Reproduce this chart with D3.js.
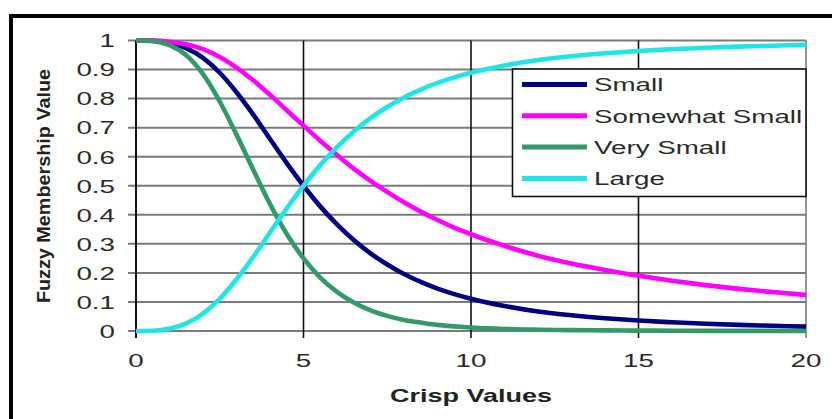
<!DOCTYPE html>
<html>
<head>
<meta charset="utf-8">
<script src="https://cdn.jsdelivr.net/npm/d3@7"></script>
<style>
  html, body { margin: 0; padding: 0; background: #fff; }
  svg { display: block; }
  text { font-family: "Liberation Sans", Arial, sans-serif; }
</style>
</head>
<body>
<svg id="chart" width="832" height="419"></svg>
<script>
// ---- data ----
const crispValues = [0,0.5,1,1.5,2,2.5,3,3.5,4,4.5,5,5.5,6,6.5,7,7.5,8,8.5,9,9.5,10,11,12,13,14,15,16,17,18,19,20];
const small =          [1.00,0.999,0.992,0.974,0.94,0.889,0.822,0.745,0.661,0.578,0.50,0.429,0.367,0.313,0.267,0.229,0.196,0.169,0.146,0.127,0.111,0.086,0.067,0.054,0.044,0.036,0.030,0.025,0.021,0.018,0.015];
const somewhatSmall =  [1.00,1.00,0.996,0.987,0.97,0.943,0.907,0.863,0.813,0.76,0.707,0.655,0.606,0.559,0.517,0.479,0.443,0.411,0.382,0.356,0.333,0.293,0.259,0.232,0.21,0.19,0.173,0.158,0.145,0.134,0.124];
const verySmall =      [1.00,0.998,0.984,0.949,0.884,0.79,0.676,0.555,0.437,0.334,0.25,0.184,0.135,0.098,0.071,0.052,0.038,0.029,0.021,0.016,0.012,0.007,0.0045,0.003,0.002,0.0013,0.001,0.0006,0.0004,0.0003,0.0002];
const large =          [0.00,0.001,0.008,0.026,0.06,0.111,0.178,0.255,0.339,0.422,0.50,0.571,0.633,0.687,0.733,0.771,0.804,0.831,0.854,0.873,0.889,0.914,0.933,0.946,0.956,0.964,0.97,0.975,0.979,0.982,0.985];
const seriesNames = ["Small","Somewhat Small","Very Small","Large"];
const seriesColors = ["#000080","#ff00ff","#339966","#1fe6e6"];
const xTicks = [0,5,10,15,20];
const yTicks = [0,0.1,0.2,0.3,0.4,0.5,0.6,0.7,0.8,0.9,1];
const yTickLabels = ["0","0.1","0.2","0.3","0.4","0.5","0.6","0.7","0.8","0.9","1"];
const xTitle = "Crisp Values";
const yTitle = "Fuzzy Membership Value";

// ---- layout ----
const svg = d3.select("#chart");
const L = 136, R = 806, T = 40.5, B = 331;
const SX = 1.5; // horizontal stretch of the text in the reference
const x = d3.scaleLinear().domain([0,20]).range([L,R]);
const y = d3.scaleLinear().domain([0,1]).range([B,T]);

// outer thick frame (left & top visible)
svg.append("path").attr("d","M11,419 V16 H832").attr("fill","none").attr("stroke","#000").attr("stroke-width",4);

// horizontal gridlines + left ticks
const g = svg.append("g");
yTicks.forEach((v,i) => {
  g.append("line").attr("x1",L-8).attr("x2",R).attr("y1",y(v)).attr("y2",y(v))
    .attr("stroke","#7a7a7a").attr("stroke-width",2);
});
// vertical gridlines + bottom ticks
xTicks.forEach((v,i) => {
  const isEdge = (i === xTicks.length-1);
  g.append("line").attr("x1",x(v)).attr("x2",x(v)).attr("y1",T).attr("y2",B+7)
    .attr("stroke", isEdge ? "#7a7a7a" : "#111").attr("stroke-width", i===0 ? 2 : 1.6);
});

// y tick labels
yTicks.forEach((v,i) => {
  svg.append("text").attr("transform",`translate(115,${y(v)+6.8}) scale(${SX},1)`)
    .attr("text-anchor","end").attr("font-size",18.5).attr("fill","#2a2a2a").text(yTickLabels[i]);
});
// x tick labels
xTicks.forEach(v => {
  svg.append("text").attr("transform",`translate(${x(v)},366.5) scale(${SX},1)`)
    .attr("text-anchor","middle").attr("font-size",18.5).attr("fill","#2a2a2a").text(v);
});
// axis titles
svg.append("text").attr("transform",`translate(${(L+R)/2},402) scale(1.42,1)`)
  .attr("text-anchor","middle").attr("font-size",19).attr("font-weight","bold").attr("fill","#222").text(xTitle);
svg.append("text").attr("transform",`translate(50,186) rotate(-90) scale(1.1,1)`)
  .attr("text-anchor","middle").attr("font-size",18).attr("font-weight","bold").attr("fill","#222").text(yTitle);

// curves
const allSeries = [small, somewhatSmall, verySmall, large];
const line = d3.line().x((d,i) => x(crispValues[i])).y(d => y(d)).curve(d3.curveMonotoneX);
allSeries.forEach((s,k) => {
  svg.append("path").datum(s).attr("d",line).attr("fill","none")
    .attr("stroke",seriesColors[k]).attr("stroke-width",4.6).attr("stroke-linejoin","round");
});

// legend
const lg = svg.append("g");
lg.append("rect").attr("x",512.5).attr("y",69).attr("width",R-512.5).attr("height",127.5)
  .attr("fill","#fff").attr("stroke","#111").attr("stroke-width",1.6);
seriesNames.forEach((n,k) => {
  const cy = 84.5 + k*31.3;
  lg.append("line").attr("x1",522).attr("x2",587).attr("y1",cy).attr("y2",cy)
    .attr("stroke",seriesColors[k]).attr("stroke-width",5);
  lg.append("text").attr("transform",`translate(594,${cy+6.8}) scale(${SX},1)`)
    .attr("font-size",18.5).attr("fill","#2a2a2a").text(n);
});
</script>
</body>
</html>
